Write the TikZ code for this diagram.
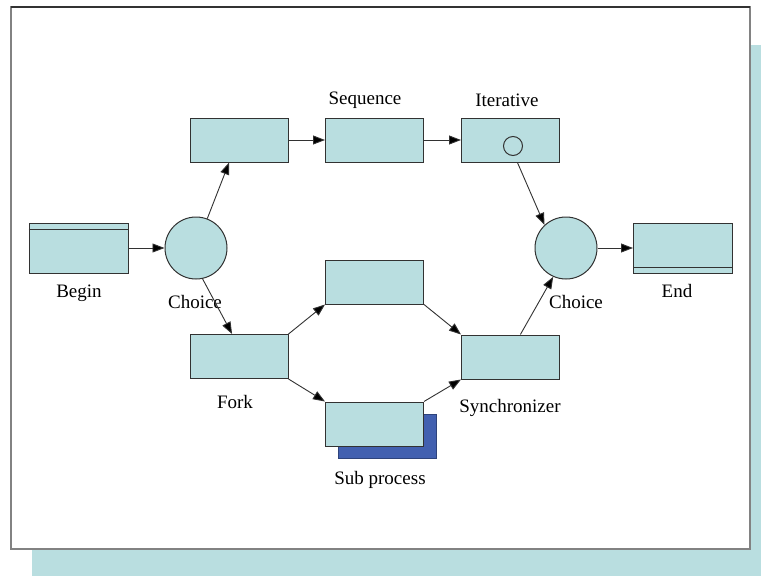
\documentclass[tikz,border=0pt]{standalone}
\usepackage{fontspec}
\setmainfont{Liberation Serif}
\usetikzlibrary{arrows.meta,calc}

\definecolor{boxfill}{RGB}{185,222,224}
\definecolor{subblue}{RGB}{66,96,176}
\definecolor{framegray}{RGB}{130,130,130}
\definecolor{edgegray}{RGB}{50,50,50}

\tikzset{
  task/.style={draw=edgegray, fill=boxfill, line width=1pt,
               minimum width=98pt, minimum height=44pt, inner sep=0pt},
  endpoint/.style={task, minimum width=99pt, minimum height=50pt},
  gate/.style={circle, draw=edgegray, fill=boxfill, line width=1pt,
               minimum size=62pt, inner sep=0pt},
  lbl/.style={font=\fontsize{19}{22}\selectfont, inner sep=0pt},
  flow/.style={draw=edgegray, line width=0.9pt,
               -{Triangle[length=12pt,width=9pt,fill=black]}}
}

\begin{document}
\begin{tikzpicture}[x=1pt,y=-1pt]
  \useasboundingbox (0,0) rectangle (761,576);

  % page frame with its drop shadow
  \fill[boxfill] (32,45) rectangle (761,576);
  \draw[framegray, fill=white, line width=1.6pt] (11,7) rectangle (750,549);
  \draw[edgegray, line width=1.6pt] (11,7) -- (750,7);

  % process steps
  \node[endpoint] (begin) at (78.5,248) {};
  \draw[edgegray, line width=1pt] ($(begin.north west)+(0,7)$) coordinate (bl) -- (bl -| begin.east);
  \node[gate] (choiceA) at (196,248) {};
  \node[task] (top) at (239,140) {};
  \node[task] (seq) at (374.5,140) {};
  \node[task] (iter) at (510.5,140) {};
  \node[circle, draw=edgegray, line width=1pt, minimum size=19pt, inner sep=0pt] (loop) at (513,146) {};
  \node[gate] (choiceB) at (566,248) {};
  \node[endpoint] (end) at (683,248) {};
  \draw[edgegray, line width=1pt] ($(end.south west)+(0,-6)$) coordinate (el) -- (el -| end.east);
  \node[task] (fork) at (239,356.5) {};
  \node[task] (mid) at (374.5,282) {};
  \node[task, draw=subblue!70!black, fill=subblue] (subshadow) at (387,436) {};
  \node[task] (sub) at (374.5,424) {};
  \node[task] (sync) at (510.5,357) {};

  % labels
  \node[lbl] (lbegin) at (79,293) {Begin};
  \node[lbl] (lchoiceA) at (195,302) {Choice};
  \node[lbl] (lseq) at (365,100) {Sequence};
  \node[lbl] (liter) at (507,100) {Iterative};
  \node[lbl] (lchoiceB) at (576,302) {Choice};
  \node[lbl] (lend) at (677,291) {End};
  \node[lbl] (lfork) at (235,402) {Fork};
  \node[lbl] (lsub) at (380,480) {Sub process};
  \node[lbl] (lsync) at (510,408) {Synchronizer};

  % connectors
  \draw[flow] (begin.east) -- (choiceA.west);
  \draw[flow] (choiceA.69) -- ($(top.south west)!0.4!(top.south east)$);
  \draw[flow] (top.east) -- (seq.west);
  \draw[flow] (seq.east) -- (iter.west);
  \draw[flow] ($(iter.south west)!0.57!(iter.south east)$) -- (choiceB.133);
  \draw[flow] (choiceB.east) -- (end.west);
  \draw[flow] (choiceA.-78) -- ($(fork.north west)!0.43!(fork.north east)$);
  \draw[flow] (fork.north east) -- (mid.south west);
  \draw[flow] (fork.south east) -- (sub.north west);
  \draw[flow] (mid.south east) -- (sync.north west);
  \draw[flow] (sub.north east) -- (sync.south west);
  \draw[flow] ($(sync.north west)!0.6!(sync.north east)$) -- (choiceB.246);
\end{tikzpicture}
\end{document}
